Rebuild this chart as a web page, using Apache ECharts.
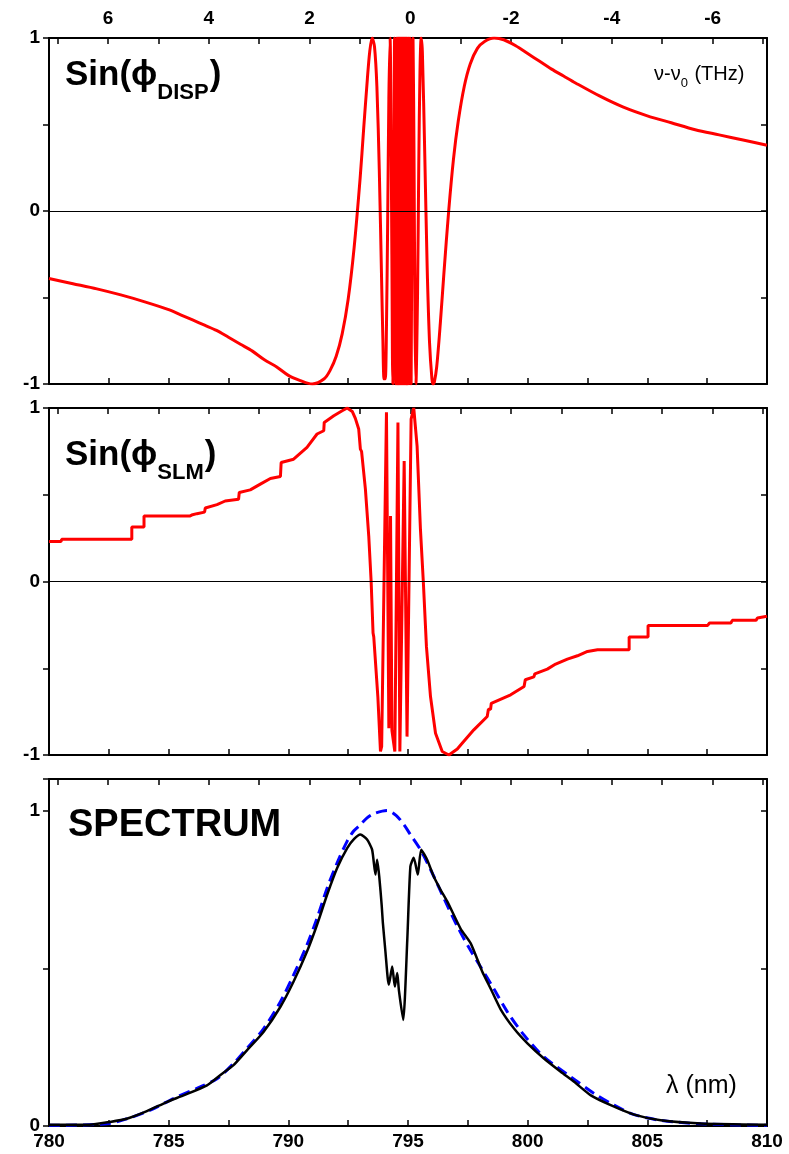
<!DOCTYPE html>
<html>
<head>
<meta charset="utf-8">
<script src="https://cdn.jsdelivr.net/npm/echarts@6/dist/echarts.min.js"></script>
<style>
  html, body { margin: 0; padding: 0; background: #fff; }
  #chart { width: 789px; height: 1154px; }
</style>
</head>
<body>
<div id="chart"></div>
<script>
// ---- Sin(phi_DISP): wavelength (nm) and value ----
const dispWl = [780, 781, 782, 783, 784, 785, 785.5, 786, 786.5, 787, 787.5, 788, 788.5, 789, 789.5, 790, 790.5, 791, 791.5, 791.75,
  792, 792.25, 792.5, 792.75, 793, 793.15, 793.3, 793.4, 793.5, 793.6, 793.7, 793.8, 793.9, 793.95,
  794.0, 794.05, 794.1, 794.15, 794.2, 794.25, 794.3, 794.35, 794.37, 794.4, 794.44, 794.47, 794.5,
  794.54, 794.56, 794.59, 794.61, 794.63, 794.65, 794.67, 794.69, 794.71, 794.73, 794.75, 794.77,
  794.79, 794.81, 794.83, 794.85, 794.87, 794.89, 794.91, 794.93, 794.95, 794.98, 795.01, 795.04,
  795.08, 795.13, 795.17, 795.21, 795.25, 795.29, 795.33, 795.4, 795.45, 795.5, 795.55, 795.6, 795.7,
  795.8, 795.9, 796.0, 796.05, 796.1, 796.2, 796.35, 796.5, 796.7, 796.9, 797.1, 797.35, 797.6, 797.9,
  798.2, 798.6, 799, 799.5, 800, 800.5, 801, 801.5, 802, 803, 804, 805, 806, 807, 808, 809, 810];
const dispSin = [-0.39, -0.42, -0.45, -0.485, -0.525, -0.57, -0.6, -0.63, -0.66, -0.69, -0.73, -0.77, -0.81, -0.86, -0.9, -0.95, -0.98, -1.0, -0.97, -0.92,
  -0.84, -0.71, -0.51, -0.21, 0.19, 0.48, 0.76, 0.92, 1.0, 0.95, 0.72, 0.24, -0.42, -0.74,
  -0.97, -0.97, -0.67, -0.07, 0.65, 1.0, 0.35, -0.85, -1.0, -0.32, 1.0, 0.1, -1.0,
  1.0, -1.0, 1.0, -1.0, 1.0, -1.0, 1.0, -1.0, 1.0, -1.0, 1.0, -1.0,
  1.0, -1.0, 1.0, -1.0, 1.0, -1.0, 1.0, -1.0, 1.0, -1.0, 1.0, -1.0,
  1.0, -1.0, 0.2, 1.0, 0.35, -0.63, -1.0, -0.47, 0.27, 0.8, 1.0, 0.92, 0.33,
  -0.32, -0.76, -0.97, -1.0, -0.99, -0.9, -0.65, -0.36, 0.0, 0.3, 0.52, 0.72, 0.85, 0.94,
  0.98, 1.0, 0.99, 0.955, 0.91, 0.865, 0.82, 0.78, 0.74, 0.665, 0.6, 0.55, 0.51, 0.47, 0.44, 0.41, 0.38];

// ---- Sin(phi_SLM): stepped phase mask ----
const slmWl = [780.0, 780.5, 780.53, 783.46, 783.46, 783.97, 783.97, 785.9, 786.0, 786.18, 786.5, 786.53,
  787.02, 787.36, 787.92, 787.95, 788.41, 788.83, 789.25, 789.67, 789.7, 790.22, 790.78, 791.2, 791.48,
  791.5, 791.9, 792.25, 792.46, 792.67, 792.8, 792.94, 793.01, 793.06, 793.22, 793.36, 793.46, 793.54,
  793.57, 793.74, 793.85, 793.9, 794.1, 794.2, 794.27, 794.33, 794.45, 794.58, 794.66, 794.7, 794.84,
  794.96, 795.13, 795.24, 795.38, 795.52, 795.64, 795.77, 795.94, 796.15, 796.43, 796.71, 797.06,
  797.2, 797.75, 798.31, 798.36, 798.45, 798.48, 799.29, 799.85, 799.9, 800.26, 800.3, 800.82, 801.17,
  801.66, 802.08, 802.5, 802.92, 804.24, 804.24, 805.03, 805.03, 807.52, 807.6, 808.49, 808.55,
  809.54, 809.6, 810];
const slmSin = [0.23, 0.23, 0.243, 0.243, 0.314, 0.314, 0.378, 0.378, 0.385, 0.391, 0.4, 0.424,
  0.443, 0.464, 0.474, 0.513, 0.528, 0.561, 0.594, 0.605, 0.686, 0.705, 0.773, 0.85, 0.869,
  0.917, 0.955, 0.984, 1.0, 0.98, 0.94, 0.879, 0.763, 0.75, 0.532, 0.262, 0.0, -0.297,
  -0.32, -0.663, -0.98, -0.95, 0.975, -0.846, 0.378, -0.86, -0.98, 0.917, -0.98, -0.97, 0.695,
  -0.894, 0.936, 1.0, 0.78, 0.3, 0.0, -0.374, -0.663, -0.875, -0.98, -1.0, -0.965,
  -0.942, -0.855, -0.778, -0.736, -0.736, -0.702, -0.653, -0.605, -0.566, -0.55, -0.532, -0.505, -0.476,
  -0.447, -0.428, -0.403, -0.393, -0.393, -0.32, -0.32, -0.253, -0.253, -0.239, -0.239, -0.224,
  -0.224, -0.21, -0.2];

// ---- Measured spectrum (solid black) ----
const specWl = [780.0, 781.7, 782.55, 783.25, 784.09, 784.92, 785.62, 786.6, 787.15, 787.71, 788.27, 788.97,
  789.67, 790.22, 790.78, 791.2, 791.62, 792.04, 792.46, 792.75, 793.01, 793.29, 793.5, 793.64, 793.71,
  793.8, 793.9, 793.95, 794.06, 794.15, 794.2, 794.34, 794.45, 794.55, 794.62, 794.8, 794.97, 795.1,
  795.24, 795.41, 795.55, 795.8, 796.08, 796.36, 796.64, 797.2, 797.62, 798.1, 798.45, 798.87, 799.43,
  799.99, 800.68, 801.38, 801.94, 802.64, 803.47, 804.45, 805.56, 807.24, 810];
const specMeasured = [0.004, 0.004, 0.013, 0.023, 0.047, 0.076, 0.097, 0.129, 0.161, 0.193, 0.24, 0.299,
  0.378, 0.458, 0.553, 0.638, 0.733, 0.818, 0.881, 0.91, 0.924, 0.908, 0.876, 0.797, 0.844,
  0.79, 0.7, 0.644, 0.55, 0.47, 0.448, 0.506, 0.442, 0.485, 0.43, 0.336, 0.59, 0.823,
  0.85, 0.797, 0.876, 0.844, 0.79, 0.749, 0.712, 0.625, 0.579, 0.49, 0.436, 0.37, 0.309,
  0.262, 0.214, 0.172, 0.14, 0.097, 0.066, 0.036, 0.018, 0.008, 0.004];

// ---- Reference spectrum (dashed blue) ----
const refWl = [780, 782.41, 783.25, 784.23, 785.2, 786.32, 787.02, 787.71, 788.27, 788.97, 789.67, 790.22,
  790.78, 791.2, 791.62, 792.04, 792.46, 792.73, 793.01, 793.29, 793.57, 794.13, 794.5, 794.83, 795.1,
  795.52, 796.08, 796.5, 797.06, 797.55, 798.03, 798.59, 799.15, 799.85, 800.68, 801.8, 802.78, 803.61,
  804.45, 805.56, 807.24, 810];
const refSpectrum = [0.002, 0.007, 0.023, 0.05, 0.087, 0.124, 0.15, 0.198, 0.246, 0.309, 0.394, 0.479,
  0.574, 0.659, 0.754, 0.834, 0.903, 0.935, 0.955, 0.977, 0.99, 1.0, 0.985, 0.955, 0.924,
  0.876, 0.791, 0.722, 0.633, 0.565, 0.505, 0.434, 0.362, 0.288, 0.219, 0.156, 0.103, 0.066,
  0.036, 0.018, 0.007, 0.002];

// ---- Axis ticks and labels ----
const wlRange = [780, 810];
const wlTickStep = 2.5;
const wlLabels = [780, 785, 790, 795, 800, 805, 810];
const freqRange = [-7.08, 7.17];              // nu - nu0 (THz) across the wavelength window
const freqTicks = [-7, -6, -5, -4, -3, -2, -1, 0, 1, 2, 3, 4, 5, 6, 7];
const freqLabels = [-6, -4, -2, 0, 2, 4, 6];
const phaseYLabels = [-1, 0, 1];
const specYLabels = [0, 1];

const zip = (xs, ys) => xs.map((x, i) => [x, ys[i]]);

const FONT = '"Liberation Sans", Arial, Helvetica, sans-serif';
const BLACK = '#000';

const grids = [
  { left: 49, right: 22, top: 38, height: 346 },
  { left: 49, right: 22, top: 408, height: 347 },
  { left: 49, right: 22, top: 779, height: 347 }
];

const frameLine = { show: true, onZero: false, lineStyle: { color: BLACK, width: 2 } };

function wlAxis(gridIndex, showLabels) {
  return {
    type: 'value', gridIndex, position: 'bottom',
    min: wlRange[0], max: wlRange[1], interval: wlTickStep,
    axisLine: frameLine,
    axisTick: { show: true, inside: true, length: 6, lineStyle: { color: BLACK, width: 1.5 } },
    axisLabel: {
      show: showLabels, margin: 6, color: BLACK, fontFamily: FONT, fontWeight: 'bold', fontSize: 19,
      formatter: v => (wlLabels.indexOf(v) >= 0 ? String(v) : '')
    },
    splitLine: { show: false }
  };
}

function freqAxis(gridIndex, showLabels) {
  return {
    type: 'value', gridIndex, position: 'top', inverse: true,
    min: freqRange[0], max: freqRange[1],
    axisLine: frameLine,
    axisTick: { show: true, inside: true, length: 6, customValues: freqTicks, lineStyle: { color: BLACK, width: 1.5 } },
    axisLabel: {
      show: showLabels, margin: 10, color: BLACK, fontFamily: FONT, fontWeight: 'bold', fontSize: 19,
      customValues: freqLabels, formatter: v => String(v)
    },
    splitLine: { show: false }
  };
}

function yAxisPair(gridIndex, min, max, labels) {
  const base = {
    type: 'value', gridIndex, min, max, interval: 0.5,
    axisLine: frameLine,
    splitLine: { show: false }
  };
  return [
    Object.assign({}, base, {
      position: 'left',
      axisTick: { show: true, inside: false, length: 6, lineStyle: { color: BLACK, width: 1.5 } },
      axisLabel: {
        show: true, margin: 9, color: BLACK, fontFamily: FONT, fontWeight: 'bold', fontSize: 19,
        formatter: v => (labels.indexOf(v) >= 0 ? String(v) : '')
      }
    }),
    Object.assign({}, base, {
      position: 'right',
      axisTick: { show: true, inside: true, length: 6, lineStyle: { color: BLACK, width: 1.5 } },
      axisLabel: { show: false }
    })
  ];
}

const zeroLine = {
  silent: true, symbol: 'none', label: { show: false },
  lineStyle: { color: BLACK, width: 1, type: 'solid' },
  data: [{ yAxis: 0 }]
};

// width measurement for placing subscripts after their base text
const measureCtx = document.createElement('canvas').getContext('2d');
function textWidth(str, font) { measureCtx.font = font; return measureCtx.measureText(str).width; }

function textEl(x, y, text, size, weight) {
  return {
    type: 'text', x, y, z: 100,
    style: { text, font: `${weight} ${size}px ${FONT}`, fill: BLACK, align: 'left', verticalAlign: 'middle' }
  };
}

// main text + subscript + trailing text, positioned from a common row
function subscriptLabel(x, midY, main, sub, tail, mainSize, subSize, subDrop, weight) {
  const wMain = textWidth(main, `${weight} ${mainSize}px ${FONT}`);
  const wSub = textWidth(sub, `${weight} ${subSize}px ${FONT}`);
  const els = [
    textEl(x, midY, main, mainSize, weight),
    textEl(x + wMain, midY + subDrop, sub, subSize, weight)
  ];
  if (tail) els.push(textEl(x + wMain + wSub + 1, midY, tail, mainSize, weight));
  return els;
}

const graphics = [].concat(
  subscriptLabel(65, 75, 'Sin(\u03D5', 'DISP', ')', 35, 22, 18, 'bold'),
  subscriptLabel(654, 74, '\u03BD-\u03BD', '0', ' (THz)', 20, 13, 9, 'normal'),
  subscriptLabel(65, 455, 'Sin(\u03D5', 'SLM', ')', 35, 22, 18, 'bold'),
  [textEl(68, 826, 'SPECTRUM', 38, 'bold'),
   textEl(666, 1086, '\u03BB (nm)', 25, 'normal')]
);

const option = {
  animation: false,
  backgroundColor: '#fff',
  grid: grids,
  xAxis: [wlAxis(0, false), freqAxis(0, true), wlAxis(1, false), freqAxis(1, false), wlAxis(2, true), freqAxis(2, false)],
  yAxis: [].concat(yAxisPair(0, -1, 1, phaseYLabels), yAxisPair(1, -1, 1, phaseYLabels), yAxisPair(2, 0, 1.1, specYLabels)),
  series: [
    {
      name: 'Sin(phi_DISP)', type: 'line', xAxisIndex: 0, yAxisIndex: 0,
      data: zip(dispWl, dispSin), showSymbol: false, smooth: 0.3, clip: true,
      lineStyle: { color: '#ff0000', width: 3 }, markLine: zeroLine
    },
    {
      name: 'Sin(phi_SLM)', type: 'line', xAxisIndex: 2, yAxisIndex: 2,
      data: zip(slmWl, slmSin), showSymbol: false, clip: true,
      lineStyle: { color: '#ff0000', width: 3 }, markLine: zeroLine
    },
    {
      name: 'Reference spectrum', type: 'line', xAxisIndex: 4, yAxisIndex: 4,
      data: zip(refWl, refSpectrum), showSymbol: false, smooth: 0.3, clip: true,
      lineStyle: { color: '#0000ff', width: 3, type: [11, 6] }
    },
    {
      name: 'Measured spectrum', type: 'line', xAxisIndex: 4, yAxisIndex: 4,
      data: zip(specWl, specMeasured), showSymbol: false, smooth: 0.2, clip: true,
      lineStyle: { color: BLACK, width: 2.5 }
    }
  ],
  graphic: graphics
};

const chart = echarts.init(document.getElementById('chart'), null, { renderer: 'canvas' });
chart.setOption(option);
</script>
</body>
</html>
